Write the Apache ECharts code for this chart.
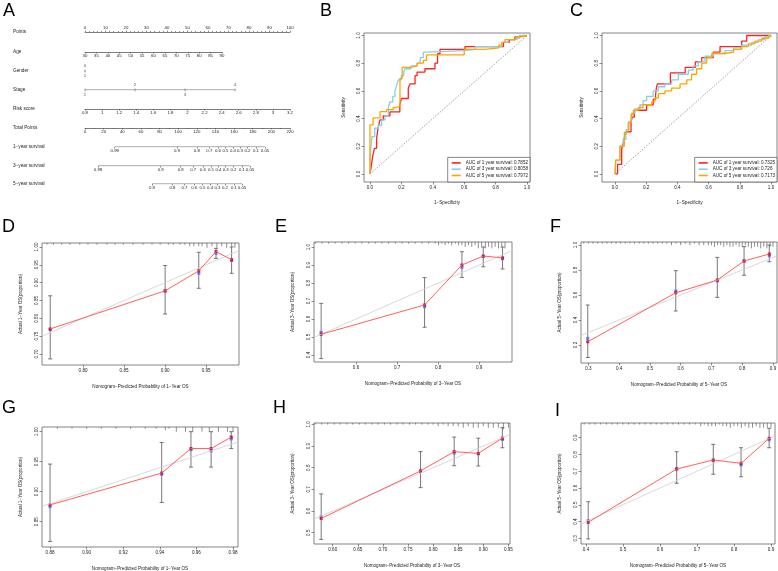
<!DOCTYPE html>
<html><head><meta charset="utf-8">
<script src="https://cdn.jsdelivr.net/npm/echarts@6/dist/echarts.min.js"></script>
<style>html,body{margin:0;padding:0;background:#fff}#c{width:778px;height:571px}</style>
</head><body><div id="c"></div><script>
const FONT = '"Liberation Sans", Arial, Helvetica, sans-serif';

// ---------------- Panel A : nomogram data ----------------
const nomoLabels = ['Points','Age','Gender','Stage','Risk score','Total Points','1\u2212year survival','3\u2212year survival','5\u2212year survival'];
const pointsRange = [0, 100];
const ageRange = [30, 90];
const riskRange = [0.8, 3.2];
const totalRange = [0, 220];
const genderLevels = ['0', '1'];
const genderPoints = [0, 0];
const stageLevels = ['1', '2', '3', '4'];
const stagePoints = [0, 24.4, 48.8, 73.2];
const surv1Labels = ['0.99','0.9','0.8','0.7','0.6','0.5','0.4','0.3','0.2','0.1','0.05'];
const surv1Points = [31.9, 98.7, 120.0, 133.4, 142.7, 150.8, 158.8, 166.3, 174.4, 183.5, 193.2];
const surv3Labels = ['0.99','0.9','0.8','0.7','0.6','0.5','0.4','0.3','0.2','0.1','0.05'];
const surv3Points = [14.0, 81.2, 102.7, 116.1, 126.4, 135.1, 143.2, 151.0, 159.3, 168.5, 177.1];
const surv5Labels = ['0.9','0.8','0.7','0.6','0.5','0.4','0.3','0.2','0.1','0.05'];
const surv5Points = [71.9, 93.9, 106.8, 117.3, 126.1, 134.2, 142.2, 150.2, 159.9, 168.5];

// ---------------- Panels B, C : ROC data ----------------
const rocTicks = [0, 0.2, 0.4, 0.6, 0.8, 1.0];
const rocYears = [1, 3, 5];
const bAUC = [0.7852, 0.8058, 0.7972];
const cAUC = [0.7325, 0.726, 0.7173];
const chanceLine = [[0, 0], [1, 1]];
const bRoc1 = [[0,0],[0.006,0.04],[0.017,0.125],[0.028,0.185],[0.042,0.257],[0.053,0.34],[0.064,0.39],[0.085,0.42],[0.127,0.448],[0.19,0.5],[0.2,0.545],[0.244,0.62],[0.255,0.65],[0.287,0.71],[0.3,0.736],[0.35,0.76],[0.414,0.8],[0.43,0.868],[0.446,0.9],[0.605,0.92],[0.85,0.95],[0.887,0.97],[0.923,0.99],[0.945,1.0],[1,1]];
const bRoc3 = [[0,0],[0.003,0.15],[0.008,0.22],[0.013,0.27],[0.03,0.33],[0.053,0.35],[0.074,0.39],[0.096,0.42],[0.117,0.48],[0.127,0.52],[0.145,0.56],[0.159,0.6],[0.17,0.64],[0.18,0.68],[0.2,0.71],[0.215,0.74],[0.223,0.76],[0.26,0.78],[0.3,0.8],[0.32,0.84],[0.34,0.88],[0.37,0.89],[0.6,0.9],[0.67,0.92],[0.84,0.95],[0.88,0.97],[0.92,0.98],[0.95,1.0],[1,1]];
const bRoc5 = [[0,0],[0,0.355],[0.02,0.405],[0.064,0.45],[0.106,0.465],[0.148,0.48],[0.17,0.49],[0.191,0.69],[0.205,0.77],[0.26,0.78],[0.3,0.8],[0.34,0.82],[0.36,0.86],[0.6,0.9],[0.73,0.91],[0.82,0.93],[0.84,0.95],[0.86,0.97],[0.93,0.99],[0.96,1.0],[1,1]];
const cRoc1 = [[0,0],[0.017,0.07],[0.043,0.18],[0.053,0.22],[0.064,0.28],[0.075,0.305],[0.103,0.38],[0.111,0.41],[0.124,0.46],[0.203,0.5],[0.245,0.54],[0.26,0.57],[0.265,0.62],[0.272,0.65],[0.355,0.73],[0.45,0.77],[0.515,0.81],[0.556,0.84],[0.63,0.88],[0.673,0.92],[0.812,0.96],[0.844,1.0],[1,1]];
const cRoc3 = [[0,0],[0.006,0.1],[0.032,0.2],[0.053,0.25],[0.07,0.32],[0.09,0.38],[0.107,0.44],[0.128,0.47],[0.16,0.5],[0.18,0.53],[0.203,0.56],[0.245,0.6],[0.278,0.63],[0.32,0.65],[0.363,0.68],[0.406,0.72],[0.47,0.75],[0.5,0.78],[0.534,0.81],[0.577,0.85],[0.63,0.87],[0.705,0.89],[0.76,0.91],[0.812,0.93],[0.876,0.95],[0.918,0.97],[0.96,0.99],[1.0,1.0]];
const cRoc5 = [[0,0],[0.004,0.1],[0.032,0.2],[0.06,0.3],[0.085,0.37],[0.103,0.43],[0.118,0.46],[0.15,0.48],[0.18,0.5],[0.235,0.52],[0.256,0.55],[0.278,0.58],[0.32,0.6],[0.363,0.62],[0.417,0.65],[0.46,0.68],[0.491,0.72],[0.523,0.76],[0.556,0.8],[0.588,0.84],[0.62,0.87],[0.705,0.88],[0.76,0.9],[0.812,0.92],[0.855,0.94],[0.897,0.96],[0.94,0.98],[0.983,1.0],[1,1]];

// ---------------- Panels D-I : calibration data ----------------
const dPred = [0.760, 0.900, 0.941, 0.962, 0.981];
const dObs  = [0.770, 0.877, 0.933, 0.987, 0.964];
const dCorr = [0.768, 0.876, 0.926, 0.982, 0.962];
const dLo   = [0.686, 0.812, 0.884, 0.968, 0.926];
const dHi   = [0.863, 0.948, 0.985, 0.996, 1.000];
const dRugX = [0.756,0.764,0.774,0.784,0.796,0.806,0.817,0.829,0.839,0.849,0.861,0.873,0.884,0.894,0.904,0.910,0.918,0.924,0.930,0.935,0.941,0.945,0.951,0.957,0.963,0.969,0.975,0.981,0.985];
const dRugN = [1,1,1,1,1,1,1,1,1,1,1,1,1,1,1,1,1,1,2,2,2,2,3,2,3,2,3,2,3];
const dTicksX = [0.80, 0.85, 0.90, 0.95];
const dTicksY = [0.70, 0.75, 0.80, 0.85, 0.90, 0.95, 1.00];

const ePred = [0.515, 0.767, 0.858, 0.910, 0.957];
const eObs  = [0.515, 0.678, 0.900, 0.950, 0.940];
const eCorr = [0.526, 0.668, 0.887, 0.948, 0.935];
const eLo   = [0.380, 0.554, 0.831, 0.890, 0.878];
const eHi   = [0.687, 0.830, 0.974, 1.000, 1.000];
const eRugX = [0.501,0.517,0.533,0.549,0.566,0.582,0.598,0.614,0.631,0.647,0.663,0.679,0.696,0.712,0.728,0.744,0.761,0.777,0.793,0.801,0.809,0.817,0.825,0.833,0.842,0.850,0.858,0.866,0.874,0.882,0.890,0.898,0.906,0.915,0.923,0.931,0.939,0.947,0.955,0.963];
const eRugN = [1,1,1,1,1,1,1,1,1,1,1,1,1,1,1,1,1,1,1,2,1,2,1,2,1,2,2,3,2,3,2,4,3,4,3,4,3,4,3,4];
const eTicksX = [0.6, 0.7, 0.8, 0.9];
const eTicksY = [0.4, 0.5, 0.6, 0.7, 0.8, 0.9, 1.0];

const fPred = [0.298, 0.584, 0.719, 0.806, 0.888];
const fObs  = [0.226, 0.618, 0.720, 0.872, 0.928];
const fCorr = [0.253, 0.632, 0.712, 0.872, 0.914];
const fLo   = [0.100, 0.472, 0.581, 0.758, 0.866];
const fHi   = [0.520, 0.795, 0.901, 0.987, 1.000];
const fRugX = [0.285,0.30,0.315,0.33,0.345,0.36,0.375,0.39,0.405,0.42,0.435,0.45,0.465,0.48,0.495,0.51,0.525,0.54,0.555,0.57,0.585,0.60,0.615,0.63,0.645,0.66,0.675,0.69,0.70,0.71,0.72,0.73,0.74,0.75,0.76,0.77,0.78,0.79,0.80,0.81,0.82,0.83,0.84,0.85,0.86,0.87,0.88,0.89,0.90];
const fRugN = [1,1,1,1,1,1,1,1,1,1,1,1,1,1,1,1,1,1,1,2,1,2,1,2,1,2,2,2,2,3,2,2,3,2,3,3,2,3,3,2,3,4,3,3,4,3,4,3,3];
const fTicksX = [0.3, 0.4, 0.5, 0.6, 0.7, 0.8, 0.9];
const fTicksY = [0.2, 0.4, 0.6, 0.8, 1.0];

const gPred = [0.880, 0.941, 0.957, 0.968, 0.979];
const gObs  = [0.878, 0.931, 0.972, 0.972, 0.991];
const gCorr = [0.875, 0.929, 0.970, 0.968, 0.988];
const gLo   = [0.817, 0.882, 0.941, 0.941, 0.972];
const gHi   = [0.946, 0.982, 1.000, 1.000, 1.000];
const gRugX = [0.884,0.892,0.900,0.908,0.916,0.924,0.932,0.938,0.943,0.945,0.949,0.954,0.958,0.963,0.967,0.972,0.977,0.980];
const gRugN = [1,1,1,1,1,1,1,1,2,1,3,3,3,3,3,3,3,3];
const gTicksX = [0.88, 0.90, 0.92, 0.94, 0.96, 0.98];
const gTicksY = [0.85, 0.90, 0.95, 1.00];

const hPred = [0.577, 0.775, 0.842, 0.890, 0.938];
const hObs  = [0.566, 0.785, 0.874, 0.866, 0.936];
const hCorr = [0.574, 0.783, 0.868, 0.864, 0.930];
const hLo   = [0.469, 0.708, 0.809, 0.808, 0.892];
const hHi   = [0.679, 0.874, 0.941, 0.936, 0.985];
const hRugX = [0.565,0.578,0.590,0.603,0.615,0.628,0.640,0.653,0.665,0.678,0.690,0.703,0.715,0.728,0.740,0.753,0.765,0.778,0.790,0.80,0.81,0.82,0.83,0.84,0.85,0.86,0.87,0.88,0.89,0.90,0.91,0.92,0.93,0.94,0.95];
const hRugN = [1,1,1,1,1,1,1,1,1,1,1,1,1,1,1,1,1,1,1,1,2,1,2,2,2,3,2,3,3,2,3,3,3,4,3];
const hTicksX = [0.60, 0.65, 0.70, 0.75, 0.80, 0.85, 0.90, 0.95];
const hTicksY = [0.5, 0.6, 0.7, 0.8, 0.9, 1.0];

const iPred = [0.406, 0.645, 0.744, 0.819, 0.895];
const iObs  = [0.395, 0.713, 0.767, 0.747, 0.896];
const iCorr = [0.405, 0.715, 0.764, 0.737, 0.887];
const iLo   = [0.296, 0.628, 0.682, 0.667, 0.840];
const iHi   = [0.518, 0.816, 0.860, 0.840, 0.956];
const iRugX = [0.395,0.41,0.425,0.44,0.455,0.47,0.485,0.50,0.515,0.53,0.545,0.56,0.575,0.59,0.605,0.62,0.635,0.65,0.665,0.68,0.695,0.71,0.72,0.73,0.74,0.75,0.76,0.77,0.78,0.79,0.80,0.81,0.82,0.83,0.84,0.85,0.86,0.87,0.88,0.89,0.90];
const iRugN = [1,1,1,1,1,1,1,1,1,1,1,1,1,1,1,1,1,1,1,1,1,2,1,2,2,2,1,2,2,3,2,2,3,2,3,3,2,3,3,3,3];
const iTicksX = [0.4, 0.5, 0.6, 0.7, 0.8, 0.9];
const iTicksY = [0.3, 0.4, 0.5, 0.6, 0.7, 0.8, 0.9];

// ---------------- build ----------------
const AX = '#444', TX = '#222';
const option = {
  animation: false, backgroundColor: '#fff',
  textStyle: { fontFamily: FONT },
  grid: [], xAxis: [], yAxis: [], series: [], legend: [],
  graphic: { elements: [] }
};
function addGrid(g) {
  option.grid.push(Object.assign({ show: false, containLabel: false, outerBoundsMode: 'none' }, g));
  return option.grid.length - 1;
}
function text(x, y, s, size, extra) {
  option.graphic.elements.push({ type: 'text', x: x, y: y, silent: true,
    style: Object.assign({ text: s, fontSize: size, fontFamily: FONT, fill: TX, verticalAlign: 'middle', align: 'left' }, extra || {}) });
}
const tickStyle = { color: AX, width: 0.6 };
const nomoLbl = { fontSize: 4.3, color: TX, margin: 2, fontFamily: FONT };

// ---- Panel A
const NL = 85, NW = 205;
const rowY = [32, 52, 71, 90, 109, 128, 147, 166, 184];
nomoLabels.forEach((s, i) => text(13, rowY[i], s, 4.7));

function nomoGrid(y, left, width, xa, top) {
  const gi = addGrid({ left: left, width: width, top: top ? y : y - 1, height: 1 });
  option.xAxis.push(Object.assign({ type: 'value', gridIndex: gi, position: top ? 'top' : 'bottom',
    splitLine: { show: false },
    axisLine: { show: true, onZero: false, lineStyle: { color: AX, width: 0.7 } },
    axisTick: { show: true, length: 1.5, lineStyle: tickStyle },
    axisLabel: nomoLbl }, xa));
  option.yAxis.push({ type: 'value', gridIndex: gi, min: 0, max: 1, show: false });
  return gi;
}
// Points
nomoGrid(rowY[0], NL, NW, { min: pointsRange[0], max: pointsRange[1], interval: 10,
  minorTick: { show: true, splitNumber: 5, length: 1, lineStyle: tickStyle } }, true);
// Age
nomoGrid(rowY[1], NL, 137, { min: ageRange[0], max: ageRange[1], interval: 5 });
// Gender
const gGender = nomoGrid(rowY[2], NL, NW, { show: false, min: 0, max: 100 });
option.series.push({ type: 'scatter', xAxisIndex: gGender, yAxisIndex: gGender, symbol: 'rect', symbolSize: [0.5, 2.5],
  itemStyle: { color: AX }, silent: true,
  data: genderLevels.map((l, i) => ({ value: [genderPoints[i], 0],
    label: { show: true, position: i === 0 ? 'top' : 'bottom', distance: 1.5, formatter: l, fontSize: 4.3, color: TX, fontFamily: FONT } })) });
// Stage
const gStage = nomoGrid(rowY[3], NL, NW, { show: false, min: pointsRange[0], max: pointsRange[1] });
option.series.push({ type: 'line', xAxisIndex: gStage, yAxisIndex: gStage, showSymbol: false, silent: true,
  lineStyle: { color: AX, width: 0.7 }, data: stagePoints.map(p => [p, 0]) });
option.series.push({ type: 'scatter', xAxisIndex: gStage, yAxisIndex: gStage, symbol: 'rect', symbolSize: [0.6, 3],
  itemStyle: { color: AX }, silent: true,
  data: stageLevels.map((l, i) => ({ value: [stagePoints[i], 0],
    label: { show: true, position: i % 2 ? 'top' : 'bottom', distance: 1.5, formatter: l, fontSize: 4.3, color: TX, fontFamily: FONT } })) });
// Risk score
nomoGrid(rowY[4], NL, NW, { min: riskRange[0], max: riskRange[1], interval: 0.2 });
// Total points
nomoGrid(rowY[5], NL, NW, { min: totalRange[0], max: totalRange[1], interval: 20,
  minorTick: { show: true, splitNumber: 2, length: 1, lineStyle: tickStyle } });
// Survival rows
function survRow(y, pts, labs) {
  const fmt = v => { let k = 0, b = 1e9; pts.forEach((p, i) => { const d = Math.abs(p - v); if (d < b) { b = d; k = i; } }); return labs[k]; };
  const gi = nomoGrid(y, NL, NW, { min: totalRange[0], max: totalRange[1],
    axisLine: { show: false, onZero: false },
    axisTick: { show: true, length: 1.5, lineStyle: tickStyle, customValues: pts },
    axisLabel: Object.assign({}, nomoLbl, { customValues: pts, formatter: fmt }) });
  option.series.push({ type: 'line', xAxisIndex: gi, yAxisIndex: gi, showSymbol: false, silent: true,
    lineStyle: { color: AX, width: 0.7 }, data: pts.map(p => [p, 0]) });
}
survRow(rowY[6], surv1Points, surv1Labels);
survRow(rowY[7], surv3Points, surv3Labels);
survRow(rowY[8], surv5Points, surv5Labels);

// ---- ROC panels
const rocColors = ['#FF2020', '#87CEEB', '#FFA500'];
function rocPanel(box, xr, yr, curves, aucs, legPos) {
  const gi = addGrid(Object.assign({ show: true, borderColor: '#666', borderWidth: 0.8, backgroundColor: 'transparent' }, box));
  const lbl = { fontSize: 4.6, color: TX, margin: 3, fontFamily: FONT, formatter: v => v.toFixed(1) };
  option.xAxis.push({ type: 'value', gridIndex: gi, min: xr[0], max: xr[1], splitLine: { show: false },
    axisLine: { show: false, onZero: false },
    axisTick: { show: true, length: 2.5, lineStyle: tickStyle, customValues: rocTicks },
    axisLabel: Object.assign({ customValues: rocTicks }, lbl),
    name: '1\u2212Specificity', nameLocation: 'middle', nameGap: 18,
    nameTextStyle: { fontSize: 4.6, color: TX, fontFamily: FONT } });
  option.yAxis.push({ type: 'value', gridIndex: gi, min: yr[0], max: yr[1], splitLine: { show: false },
    axisLine: { show: false, onZero: false },
    axisTick: { show: true, length: 2.5, lineStyle: tickStyle, customValues: rocTicks },
    axisLabel: Object.assign({ customValues: rocTicks, rotate: 90 }, lbl),
    name: 'Sensitivity', nameLocation: 'middle', nameGap: 18,
    nameTextStyle: { fontSize: 4.6, color: TX, fontFamily: FONT } });
  option.series.push({ type: 'line', xAxisIndex: gi, yAxisIndex: gi, showSymbol: false, silent: true,
    lineStyle: { color: '#777', width: 0.7, type: [1.5, 1.5] }, data: chanceLine });
  const names = [];
  curves.forEach((c, i) => {
    const name = 'AUC of ' + rocYears[i] + ' year survival: ' + aucs[i];
    names.push(name);
    option.series.push({ type: 'line', name: name, xAxisIndex: gi, yAxisIndex: gi, step: 'end', showSymbol: false,
      silent: true, itemStyle: { color: rocColors[i] }, lineStyle: { color: rocColors[i], width: 1.3 }, data: c });
  });
  option.legend.push(Object.assign({ orient: 'vertical', icon: 'rect', itemWidth: 9, itemHeight: 1.6, itemGap: 1.3,
    padding: [3, 2, 4, 4], borderColor: '#555', borderWidth: 0.7, backgroundColor: '#fff', selectedMode: false,
    textStyle: { fontSize: 4.6, color: TX, fontFamily: FONT }, data: names }, legPos));
}
rocPanel({ left: 364, top: 33, width: 166, height: 149 }, [-0.038, 1.019], [-0.058, 1.018],
  [bRoc1, bRoc3, bRoc5], bAUC, { right: 248, bottom: 389 });
rocPanel({ left: 602, top: 33, width: 175, height: 149 }, [-0.083, 1.038], [-0.058, 1.018],
  [cRoc1, cRoc3, cRoc5], cAUC, { right: 1, bottom: 389 });

// ---- Calibration panels
function calPanel(box, xr, yr, xT, yT, xDec, yDec, yr_, pred, obs, corr, lo, hi, rugX, rugN) {
  const gi = addGrid(Object.assign({ show: true, borderColor: '#666', borderWidth: 0.8, backgroundColor: 'transparent' }, box));
  const lbl = { fontSize: 4.6, color: TX, margin: 3, fontFamily: FONT };
  option.xAxis.push({ type: 'value', gridIndex: gi, min: xr[0], max: xr[1], splitLine: { show: false },
    axisLine: { show: false, onZero: false },
    axisTick: { show: true, length: 2.5, lineStyle: tickStyle, customValues: xT },
    axisLabel: Object.assign({ customValues: xT, formatter: v => v.toFixed(xDec) }, lbl),
    name: 'Nomogram\u2212Predicted Probability of ' + yr_ + '\u2212Year OS', nameLocation: 'middle', nameGap: 19,
    nameTextStyle: { fontSize: 4.6, color: TX, fontFamily: FONT } });
  option.yAxis.push({ type: 'value', gridIndex: gi, min: yr[0], max: yr[1], splitLine: { show: false },
    axisLine: { show: false, onZero: false },
    axisTick: { show: true, length: 2.5, lineStyle: tickStyle, customValues: yT },
    axisLabel: Object.assign({ customValues: yT, rotate: 90, formatter: v => v.toFixed(yDec) }, lbl),
    name: 'Actual ' + yr_ + '\u2212Year OS(proportion)', nameLocation: 'middle', nameGap: 19,
    nameTextStyle: { fontSize: 4.6, color: TX, fontFamily: FONT } });
  const yTop = yr[1];
  // ideal line
  option.series.push({ type: 'line', xAxisIndex: gi, yAxisIndex: gi, showSymbol: false, silent: true, clip: true,
    lineStyle: { color: '#cfcfcf', width: 0.8 }, data: [[xr[0], xr[0]], [xr[1], xr[1]]] });
  // rug (distribution of predictions)
  option.series.push({ type: 'custom', xAxisIndex: gi, yAxisIndex: gi, silent: true,
    data: rugX.map((x, i) => [x, rugN[i]]),
    renderItem: (p, api) => {
      const c = api.coord([api.value(0), yTop]);
      return { type: 'line', shape: { x1: c[0], y1: c[1], x2: c[0], y2: c[1] + 1.6 * api.value(1) },
        style: { stroke: '#444', lineWidth: 0.6 } };
    } });
  // red line
  option.series.push({ type: 'line', xAxisIndex: gi, yAxisIndex: gi, showSymbol: false, silent: true,
    lineStyle: { color: '#ff6060', width: 1 }, data: pred.map((x, i) => [x, obs[i]]) });
  // error bars
  option.series.push({ type: 'custom', xAxisIndex: gi, yAxisIndex: gi, silent: true,
    data: pred.map((x, i) => [x, lo[i], hi[i]]),
    renderItem: (p, api) => {
      const a = api.coord([api.value(0), api.value(1)]);
      const b = api.coord([api.value(0), api.value(2)]);
      const st = { stroke: '#555', lineWidth: 0.8 };
      return { type: 'group', children: [
        { type: 'line', shape: { x1: a[0], y1: a[1], x2: b[0], y2: b[1] }, style: st },
        { type: 'line', shape: { x1: a[0] - 2, y1: a[1], x2: a[0] + 2, y2: a[1] }, style: st },
        { type: 'line', shape: { x1: b[0] - 2, y1: b[1], x2: b[0] + 2, y2: b[1] }, style: st } ] };
    } });
  // bias-corrected points (blue) and observed (red)
  option.series.push({ type: 'scatter', xAxisIndex: gi, yAxisIndex: gi, silent: true, symbol: 'rect', symbolSize: 3,
    itemStyle: { color: '#5a6cff', opacity: 0.9 }, data: pred.map((x, i) => [x, corr[i]]) });
  option.series.push({ type: 'scatter', xAxisIndex: gi, yAxisIndex: gi, silent: true, symbol: 'rect', symbolSize: 3,
    itemStyle: { color: '#c8002a', opacity: 0.85 }, data: pred.map((x, i) => [x, obs[i]]) });
}
calPanel({ left: 42, top: 243, width: 197, height: 122 }, [0.75, 0.990], [0.669, 1.011], dTicksX, dTicksY, 2, 2, '1', dPred, dObs, dCorr, dLo, dHi, dRugX, dRugN);
calPanel({ left: 314, top: 242, width: 198, height: 120 }, [0.4976, 0.980], [0.361, 1.028], eTicksX, eTicksY, 1, 1, '3', ePred, eObs, eCorr, eLo, eHi, eRugX, eRugN);
calPanel({ left: 581, top: 242, width: 196, height: 121 }, [0.276, 0.913], [0.056, 1.024], fTicksX, fTicksY, 1, 1, '5', fPred, fObs, fCorr, fLo, fHi, fRugX, fRugN);
calPanel({ left: 42, top: 427, width: 196, height: 120 }, [0.8756, 0.9827], [0.8078, 1.0078], gTicksX, gTicksY, 2, 2, '1', gPred, gObs, gCorr, gLo, gHi, gRugX, gRugN);
calPanel({ left: 314, top: 423, width: 196, height: 121 }, [0.5627, 0.9532], [0.4479, 1.0062], hTicksX, hTicksY, 2, 1, '3', hPred, hObs, hCorr, hLo, hHi, hRugX, hRugN);
calPanel({ left: 581, top: 423, width: 194, height: 121 }, [0.3865, 0.9108], [0.266, 0.9875], iTicksX, iTicksY, 1, 1, '5', iPred, iObs, iCorr, iLo, iHi, iRugX, iRugN);

// ---- panel letters
[['A', 3, 11], ['B', 320, 11.5], ['C', 570, 11.5], ['D', 2, 227], ['E', 275, 227], ['F', 550, 227],
 ['G', 2, 408], ['H', 273, 408], ['I', 555, 411]].forEach(l => text(l[1], l[2], l[0], 18, { fill: '#000' }));

const chart = echarts.init(document.getElementById('c'), null, { renderer: 'canvas', width: 778, height: 571 });
chart.setOption(option);
</script></body></html>
